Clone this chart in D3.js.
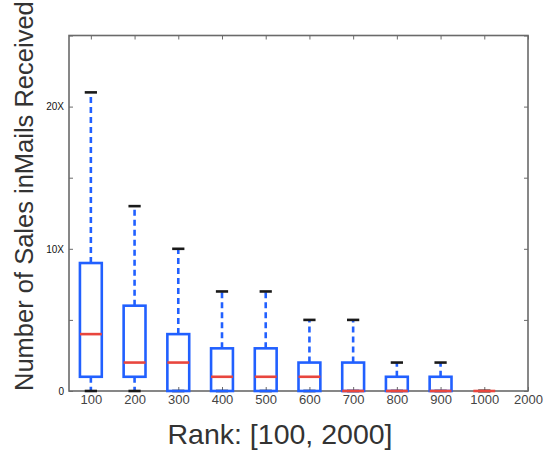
<!DOCTYPE html>
<html>
<head>
<meta charset="utf-8">
<script src="https://cdn.jsdelivr.net/npm/d3@7"></script>
<style>
  html, body { margin: 0; padding: 0; background: #fff; }
  svg { display: block; }
</style>
</head>
<body>
<svg id="chart" width="553" height="455"></svg>
<script>
// ---- data ----
const categories = ["100", "200", "300", "400", "500", "600", "700", "800", "900", "1000", "2000"];
const whiskerLow  = [0, 0, 0, 0, 0, 0, 0, 0, 0, 0];
const q1          = [1, 1, 0, 0, 0, 0, 0, 0, 0, 0];
const median      = [4, 2, 2, 1, 1, 1, 0, 0, 0, 0];
const q3          = [9, 6, 4, 3, 3, 2, 2, 1, 1, 0];
const whiskerHigh = [21, 13, 10, 7, 7, 5, 5, 2, 2, 0];
const yTicks      = [0, 5, 10, 15, 20, 25];
const yTickLabels = ["0", "", "10X", "", "20X", ""];
const xTitle = "Rank: [100, 2000]";
const yTitle = "Number of Sales inMails Received";

// ---- layout ----
const pLeft = 69, pRight = 528, pTop = 35.5, pBottom = 391;
const svg = d3.select("#chart");

const x = d3.scaleLinear().domain([0.5, categories.length]).range([pLeft, pRight]);
const y = d3.scaleLinear().domain([0, 25]).range([pBottom, pTop]);

const boxes = whiskerLow.map((d, i) => ({
  pos: i + 1, lo: d, q1: q1[i], med: median[i], q3: q3[i], hi: whiskerHigh[i]
}));

const blue = "#2160ff", red = "#e8463e", capColor = "#1a1a1a", frameColor = "#6a6a6a";

// frame
svg.append("rect")
  .attr("x", pLeft).attr("y", pTop)
  .attr("width", pRight - pLeft).attr("height", pBottom - pTop)
  .attr("fill", "none").attr("stroke", frameColor).attr("stroke-width", 1.6);

// axes
const tickVals = categories.map((c, i) => i + 1);
const xAxis = d3.axisBottom(x).tickValues(tickVals)
  .tickFormat((d, i) => categories[i]).tickSizeInner(-4).tickSizeOuter(0).tickPadding(4);
const gx = svg.append("g").attr("transform", `translate(0,${pBottom})`).call(xAxis);
gx.select(".domain").remove();
gx.selectAll("text").attr("font-family", "Liberation Sans, Arial, sans-serif")
  .attr("font-size", 13).attr("fill", "#444");
gx.selectAll("line").attr("stroke", frameColor);

const xTop = d3.axisTop(x).tickValues(tickVals).tickFormat("").tickSizeInner(-4).tickSizeOuter(0);
const gxt = svg.append("g").attr("transform", `translate(0,${pTop})`).call(xTop);
gxt.select(".domain").remove();
gxt.selectAll("line").attr("stroke", frameColor);

const yAxis = d3.axisLeft(y).tickValues(yTicks)
  .tickFormat((d, i) => yTickLabels[i]).tickSizeInner(-4).tickSizeOuter(0).tickPadding(5);
const gy = svg.append("g").attr("transform", `translate(${pLeft},0)`).call(yAxis);
gy.select(".domain").remove();
gy.selectAll("text").attr("font-family", "Liberation Sans, Arial, sans-serif")
  .attr("font-size", 10).attr("fill", "#111");
gy.selectAll("line").attr("stroke", frameColor);

const yRight = d3.axisRight(y).tickValues(yTicks).tickFormat("").tickSizeInner(-4).tickSizeOuter(0);
const gyr = svg.append("g").attr("transform", `translate(${pRight},0)`).call(yRight);
gyr.select(".domain").remove();
gyr.selectAll("line").attr("stroke", frameColor);

// boxplots
const bw = 0.5, cw = 0.28;
const g = svg.append("g");
const b = g.selectAll("g.box").data(boxes).join("g").attr("class", "box");

// whiskers (dashed)
b.append("line")
  .attr("x1", d => x(d.pos)).attr("x2", d => x(d.pos))
  .attr("y1", d => y(d.q3)).attr("y2", d => y(d.hi))
  .attr("stroke", blue).attr("stroke-width", 2.6).attr("stroke-dasharray", "6,4");
b.append("line")
  .attr("x1", d => x(d.pos)).attr("x2", d => x(d.pos))
  .attr("y1", d => y(d.q1)).attr("y2", d => y(d.lo))
  .attr("stroke", blue).attr("stroke-width", 2.6).attr("stroke-dasharray", "6,4");
// caps
b.append("line")
  .attr("x1", d => x(d.pos - cw / 2)).attr("x2", d => x(d.pos + cw / 2))
  .attr("y1", d => y(d.hi)).attr("y2", d => y(d.hi))
  .attr("stroke", capColor).attr("stroke-width", 2.6);
b.append("line")
  .attr("x1", d => x(d.pos - cw / 2)).attr("x2", d => x(d.pos + cw / 2))
  .attr("y1", d => y(d.lo)).attr("y2", d => y(d.lo))
  .attr("stroke", capColor).attr("stroke-width", 2.6);
// box
b.append("rect")
  .attr("x", d => x(d.pos - bw / 2))
  .attr("width", d => x(d.pos + bw / 2) - x(d.pos - bw / 2))
  .attr("y", d => y(d.q3))
  .attr("height", d => y(d.q1) - y(d.q3))
  .attr("fill", "none").attr("stroke", blue).attr("stroke-width", 2.6);
// median
b.append("line")
  .attr("x1", d => x(d.pos - bw / 2)).attr("x2", d => x(d.pos + bw / 2))
  .attr("y1", d => y(d.med)).attr("y2", d => y(d.med))
  .attr("stroke", red).attr("stroke-width", 2.6);

// titles
svg.append("text")
  .attr("x", 280).attr("y", 444)
  .attr("text-anchor", "middle")
  .attr("font-family", "Liberation Sans, Arial, sans-serif")
  .attr("font-size", 28.5).attr("fill", "#333")
  .text(xTitle);

svg.append("text")
  .attr("transform", `translate(33,391) rotate(-90)`)
  .attr("text-anchor", "start")
  .attr("font-family", "Liberation Sans, Arial, sans-serif")
  .attr("font-size", 25.5).attr("fill", "#333")
  .text(yTitle);
</script>
</body>
</html>
